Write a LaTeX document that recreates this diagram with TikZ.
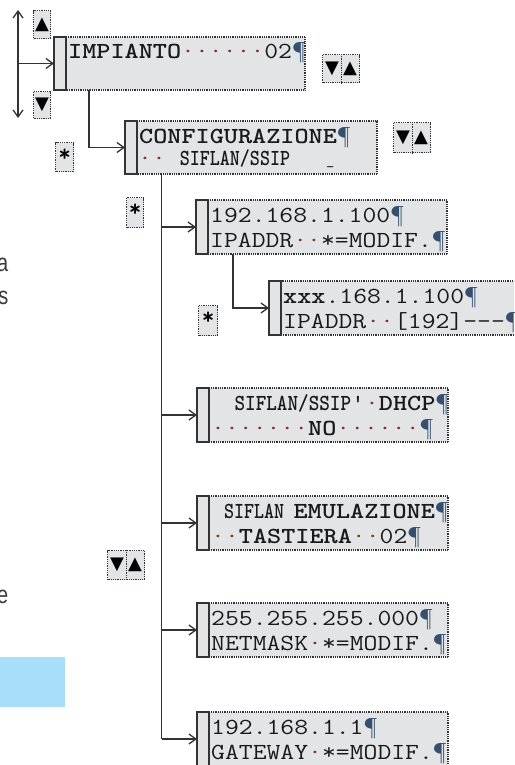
\documentclass[tikz,border=0pt]{standalone}
\usepackage{fontspec}
\usepackage{graphicx}
\usetikzlibrary{arrows.meta}
\setmainfont{Liberation Sans}
\newfontfamily\symfont{DejaVu Sans}
\definecolor{lcdfill}{HTML}{E3E4E6}
\definecolor{lineclr}{HTML}{333333}
\definecolor{dotclr}{HTML}{8A2A2A}
\definecolor{pilclr}{HTML}{34506E}
\definecolor{txtclr}{HTML}{1A1A1A}
\definecolor{bluefill}{HTML}{A9DEF9}
\definecolor{sidetxt}{HTML}{3A3A3A}
\newcommand{\lcddot}{\textcolor{dotclr}{·}}
\newcommand{\lcdpil}{\textcolor{pilclr}{¶}}
\newcommand{\nar}[2][0.71]{\scalebox{#1}[1]{#2}}
\newcommand{\wide}[1]{\scalebox{1.17}[1]{#1}}
\tikzset{
  conn/.style={draw=lineclr, line width=1.5pt},
  arr/.style={conn, -{Straight Barb[length=7pt,width=10pt,line width=1.3pt]}},
  dblarr/.style={conn, {Straight Barb[length=7pt,width=10pt,line width=1.3pt]}-{Straight Barb[length=7pt,width=10pt,line width=1.3pt]}},
  lcdbg/.style={fill=lcdfill, draw=none, anchor=north west, inner sep=0pt, outer sep=0pt},
  stripline/.style={draw=lineclr, line width=1.2pt},
  dotline/.style={draw=lineclr, line width=1.1pt, dash pattern=on 0.9pt off 0.9pt},
  lcdtxt/.style={anchor=base west, inner sep=0pt, text=txtclr, font=\ttfamily\fontsize{23}{23}\selectfont},
  keybox/.style={fill=lcdfill, draw=lineclr, line width=1.2pt, dash pattern=on 1pt off 0.8pt, inner sep=0pt, anchor=north west},
  keysym/.style={inner sep=0pt, text=black, font=\symfont\fontsize{18}{18}\selectfont},
  keystar/.style={inner sep=0pt, text=black, font=\ttfamily\bfseries\fontsize{24}{24}\selectfont},
  sidetext/.style={anchor=base east, inner sep=0pt, text=sidetxt, font=\fontsize{25}{25}\selectfont}
}
\newcommand{\lcdbox}[7]{%
  \node[lcdbg, minimum width=#4pt, minimum height=#5pt] (#1) at (#2,#3) {};
  \draw[stripline] (#1.north west) rectangle ([xshift=12pt]#1.south west);
  \draw[dotline] ([xshift=12pt]#1.north west) rectangle (#1.south east);
  \begin{scope}
    \clip ([xshift=12pt]#1.north west) rectangle (#1.south east);
    \node[lcdtxt] (#1-a) at ([xshift=14pt,yshift=-22pt]#1.north west) {\wide{#6}};
    \node[lcdtxt] (#1-b) at ([xshift=14pt,yshift=-47pt]#1.north west) {\wide{#7}};
  \end{scope}}
\newcommand{\dualkey}[4]{% name, x, y, h
  \node[keybox, minimum width=37pt, minimum height=#4pt] (#1) at (#2,#3) {};
  \draw[dotline] (#1.north) -- (#1.south);
  \node[keysym] (#1-d) at ([xshift=-9pt]#1.center) {▼};
  \node[keysym] (#1-u) at ([xshift=9pt]#1.center) {▲};}
\begin{document}
\begin{tikzpicture}[x=1pt,y=-1pt]
\useasboundingbox (0,0) rectangle (514,765);
\clip (0,0) rectangle (514,765);

% side fragments
\node[sidetext] (sa) at (8.5,271) {\nar[0.8]{a}};
\node[sidetext] (ss) at (8.5,304) {\nar[0.8]{s}};
\node[sidetext] (se) at (8.5,603) {\nar[0.8]{e}};
\fill[bluefill] (0,657) rectangle (65,707);

% key boxes
\node[keybox, minimum width=17pt, minimum height=28pt] (k1) at (33,10) {};
\node[keysym] (k1s) at (k1.center) {▲};
\node[keybox, minimum width=17pt, minimum height=27pt] (k2) at (33,91) {};
\node[keysym] (k2s) at (k2.center) {▼};
\dualkey{k3}{322}{54}{28}
\dualkey{k4}{393}{122}{30}
\dualkey{k8}{107}{550}{29}
\node[keybox, minimum width=18pt, minimum height=29pt] (k5) at (55,142) {};
\node[keystar] (k5s) at ([yshift=2pt]k5.center) {*};
\node[keybox, minimum width=17pt, minimum height=30pt] (k6) at (126,197) {};
\node[keystar] (k6s) at ([yshift=2pt]k6.center) {*};
\node[keybox, minimum width=19pt, minimum height=30pt] (k7) at (198,305) {};
\node[keystar] (k7s) at ([yshift=2pt]k7.center) {*};

% LCD boxes
\lcdbox{imp}{54}{37}{251}{53}{\textbf{IMPIANTO}\lcddot\lcddot\lcddot\lcddot\lcddot\lcddot 02\lcdpil}{}
\lcdbox{cfg}{125}{121}{252}{53}{\textbf{CONFIGURAZIONE}\lcdpil}{}
\node[lcdtxt] (cfg-c) at ([xshift=13pt,yshift=-44pt]cfg.north west) {\wide{\lcddot\lcddot\ \textbf{\nar{SIFLAN/SSIP}}}};
\node[lcdtxt, font=\ttfamily\fontsize{16}{16}\selectfont] (cfg-u) at (326,164) {\_};
\lcdbox{ip}{196}{200}{251}{54}{192.168.1.100\lcdpil}{IPADDR\lcddot\lcddot*=MODIF.\lcdpil}
\lcdbox{ipx}{269}{281}{262}{54}{\textbf{xxx}.168.1.100\lcdpil}{IPADDR\lcddot\lcddot[192]-\kern0pt-\kern0pt-\kern0pt\lcdpil}
\lcdbox{dhcp}{197}{388}{251}{54}{\hspace{20pt}\textbf{\nar[0.75]{SIFLAN/SSIP}}\kern0pt'\kern0pt\lcddot\textbf{DHCP}\lcdpil}{\lcddot\lcddot\lcddot\lcddot\lcddot\lcddot\lcddot\textbf{NO}\lcddot\lcddot\lcddot\lcddot\lcddot\lcddot\lcdpil}
\lcdbox{emu}{197}{496}{251}{54}{\hspace{11pt}\textbf{\nar{SIFLAN}}\hspace{8pt}\textbf{EMULAZIONE}\lcdpil}{\lcddot\lcddot\textbf{TASTIERA}\lcddot\lcddot 02\lcdpil}
\lcdbox{nm}{197}{603}{251}{54}{255.255.255.000\lcdpil}{NETMASK\lcddot*=MODIF.\lcdpil}
\lcdbox{gw}{197}{712}{251}{54}{192.168.1.1\lcdpil}{GATEWAY\lcddot*=MODIF.\lcdpil}

% connectors
\coordinate (vt) at (18,10);
\coordinate (vb) at (18,118);
\draw[dblarr] (vt) -- (vb);
\draw[arr] (vt |- imp.west) -- (imp.west);
\draw[arr] ([xshift=35pt]imp.south west) |- (cfg.west);
\coordinate (tt) at ([xshift=36.5pt]cfg.south west);
\draw[conn] (tt) -- (tt |- gw.west);
\draw[arr] (tt |- ip.west) -- (ip.west);
\draw[arr] (tt |- dhcp.west) -- (dhcp.west);
\draw[arr] (tt |- emu.west) -- (emu.west);
\draw[arr] (tt |- nm.west) -- (nm.west);
\draw[arr] (tt |- gw.west) -- (gw.west);
\draw[arr] ([xshift=37pt]ip.south west) |- (ipx.west);
\end{tikzpicture}
\end{document}
